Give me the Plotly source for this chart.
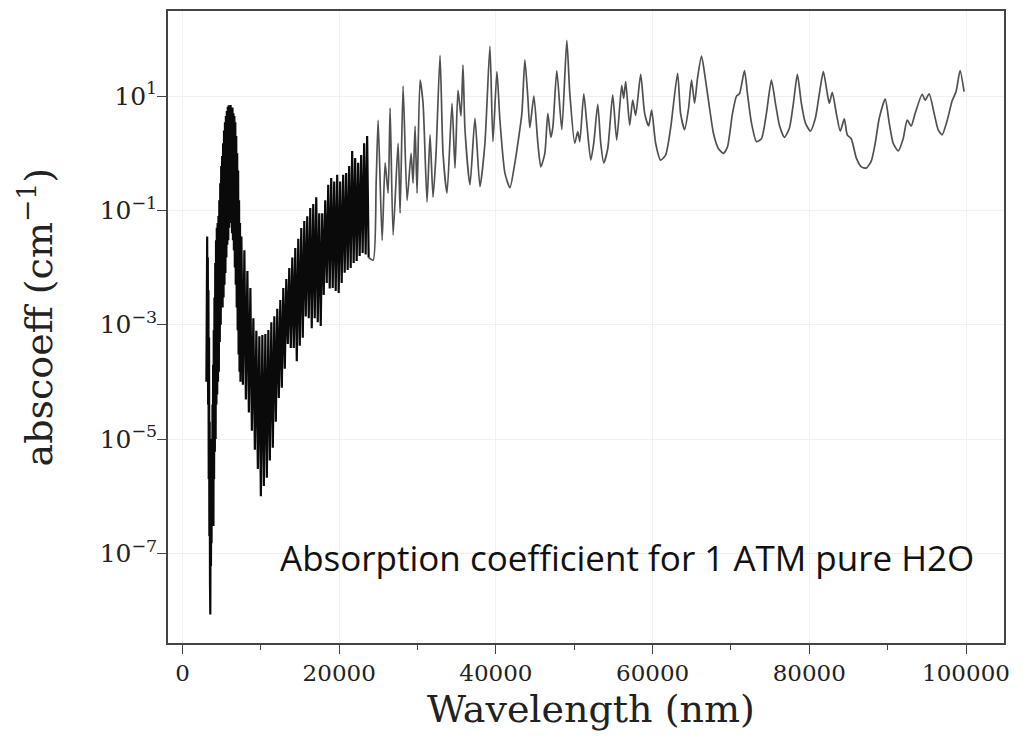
import plotly.graph_objects as go

# Dense ro-vibrational region (alternating line tops / bottoms)
dense_nm = [
    3050, 3100, 3150, 3190, 3230, 3270, 3310, 3350, 3390, 3430, 3470, 3510, 3550, 3590,
    3630, 3670, 3710, 3750, 3790, 3830, 3870, 3910, 3950, 3990, 4030, 4080, 4130, 4180,
    4230, 4280, 4330, 4380, 4430, 4480, 4530, 4590, 4640, 4700, 4760, 4820, 4880, 4940,
    5000, 5060, 5120, 5180, 5240, 5300, 5360, 5420, 5480, 5540, 5600, 5660, 5720, 5780,
    5840, 5900, 5960, 6020, 6080, 6140, 6200, 6260, 6320, 6380, 6440, 6500, 6560, 6620,
    6680, 6740, 6800, 6860, 6920, 6980, 7040, 7100, 7160, 7220, 7280, 7340, 7400,
    7517, 7708, 7899, 8090, 8281, 8472, 8663, 8854, 9045, 9236, 9427, 9618, 9809, 10000,
    10192, 10383, 10574, 10765, 10956, 11147, 11338, 11529, 11720, 11911, 12102, 12293,
    12484, 12675, 12866, 13057, 13248, 13440, 13631, 13822, 14013, 14204, 14395, 14586,
    14778, 14969, 15160, 15351, 15543, 15733, 15924, 16115, 16306, 16497, 16688, 16879,
    17070, 17262, 17453, 17644, 17835, 18026, 18218, 18409, 18600, 18791, 18982, 19173,
    19364, 19555, 19745, 19937, 20127, 20319, 20510, 20701, 20892, 21083, 21274, 21465,
    21656, 21847, 22038, 22230, 22421, 22612, 22803, 22994, 23185, 23376, 23567, 23758,
]
dense_coeff = [
    1.0e-4, 2.0e-2, 3.5e-2, 3.0e-4, 1.5e-2, 4.0e-5, 4.0e-3, 2.0e-6, 6.0e-4, 2.0e-7, 2.0e-5, 3.0e-8, 8.5e-9, 1.0e-6,
    6.0e-8, 4.0e-6, 1.5e-7, 1.0e-5, 3.0e-7, 4.0e-5, 1.0e-6, 2.0e-4, 3.0e-7, 8.0e-4, 2.0e-6, 3.0e-3, 6.0e-6, 1.2e-2,
    1.0e-5, 3.0e-2, 4.0e-5, 5.0e-2, 6.0e-5, 6.0e-2, 1.0e-4, 8.0e-2, 1.5e-4, 0.15, 5.0e-4, 0.3, 1.0e-3, 0.6,
    2.0e-3, 0.9, 2.0e-3, 1.5, 3.0e-3, 2.5, 5.0e-3, 3.5, 8.0e-3, 4.5, 1.5e-2, 5.5, 2.5e-2, 6.5,
    3.0e-2, 6.9, 5.0e-2, 6.5, 7.0e-2, 7.0, 6.0e-2, 6.0, 4.0e-2, 6.3, 3.0e-2, 5.0, 2.0e-2, 4.5,
    1.0e-2, 3.5, 5.0e-3, 2.0, 2.0e-3, 1.0, 8.0e-4, 0.5, 3.0e-4, 0.15, 1.5e-4, 6.0e-2, 1.0e-4,
    3.5e-2, 8.9e-5, 2.0e-2, 4.9e-5, 8.7e-3, 2.9e-5, 4.4e-3, 1.4e-5, 1.3e-3, 6.5e-6, 7.8e-4, 3.0e-6, 6.3e-4, 1.0e-6,
    6.6e-4, 1.5e-6, 6.9e-4, 2.1e-6, 8.1e-4, 4.2e-6, 1.1e-3, 7.0e-6, 1.4e-3, 2.0e-5, 1.9e-3, 5.2e-5,
    2.7e-3, 7.9e-5, 4.4e-3, 1.7e-4, 6.3e-3, 4.6e-4, 9.8e-3, 3.9e-4, 1.5e-2, 3.9e-4, 2.2e-2, 2.3e-4,
    3.2e-2, 4.3e-4, 4.9e-2, 5.9e-4, 6.5e-2, 1.4e-3, 7.9e-2, 1.3e-3, 0.11, 8.7e-4, 0.13, 1.3e-3,
    0.17, 1.1e-3, 8.9e-2, 9.5e-4, 8.9e-2, 3.3e-3, 0.15, 5.4e-3, 0.28, 4.3e-3, 0.37, 4.4e-3,
    0.32, 3.9e-3, 0.42, 3.6e-3, 0.32, 5.4e-3, 0.42, 8.1e-3, 0.45, 9.1e-3, 0.60, 9.8e-3,
    1.1, 1.2e-2, 0.83, 1.3e-2, 0.68, 1.6e-2, 0.93, 1.8e-2, 1.5, 1.7e-2, 2.0, 1.5e-2,
]

# Pure-rotational region (individual lines resolved)
smooth_nm = [
    23758, 24333, 24716, 24970, 25480, 25862, 26244, 26499, 26881, 27518, 27773, 28155,
    28665, 29175, 29429, 29684, 29939, 30321, 30703, 31213, 31595, 31977, 32360, 32869,
    33251, 33761, 34398, 34780, 35162, 35545, 35799, 36054, 36691, 37328, 37965, 38602,
    39239, 39622, 40131, 40513, 41150, 41787, 42424, 42806, 43316, 43698, 44080, 44335,
    44845, 45354, 45736, 46246, 46628, 47010, 47265, 47775, 48412, 49049, 49431, 50068,
    50450, 50705, 51215, 51597, 52106, 52489, 52998, 53381, 53763, 54272, 54909, 55419,
    56056, 56311, 56566, 57075, 57457, 57840, 58477, 58986, 59496, 59878, 60388, 61025,
    61662, 62299, 63190, 63572, 64082, 64592, 64974, 65356, 65738, 66248, 66758, 67267,
    67777, 68414, 69051, 69561, 70198, 70707, 71090, 71727, 72109, 72618, 73255, 73892,
    74529, 75166, 75676, 76185, 76822, 77459, 77969, 78478, 78988, 79498, 80135, 80772,
    81281, 81791, 82300, 82555, 82937, 83447, 83957, 84466, 84848, 85358, 85995, 86632,
    87269, 87906, 88416, 88925, 89690, 90199, 90709, 91346, 91983, 92492, 93002, 93512,
    94403, 94786, 95295, 95932, 96442, 96951, 97588, 98225, 98735, 99245, 99754,
]
smooth_coeff = [
    1.5e-2, 1.35e-2, 0.30, 3.8, 0.030, 0.68, 0.20, 6.2, 0.037, 1.5, 0.089, 15,
    0.15, 1.0, 0.30, 3.0, 0.20, 19, 7.5, 0.14, 2.1, 0.17, 1.0, 52,
    1.0, 0.20, 7.5, 0.55, 12.6, 4.5, 35, 2.6, 0.28, 4.1, 0.26, 1.5,
    75, 1.6, 27, 3.8, 0.45, 0.25, 0.68, 1.5, 5.0, 43, 9.3, 2.8,
    10, 1.5, 0.58, 1.0, 5.0, 1.9, 2.8, 28, 2.6, 95, 11.3, 1.5,
    2.4, 1.6, 11, 3.4, 0.76, 1.5, 7.2, 1.5, 0.68, 1.2, 10.5, 1.7,
    15.5, 9.2, 18, 3.1, 8.5, 4.6, 24, 5.0, 3.0, 5.7, 1.5, 0.76,
    0.93, 2.75, 25, 5.0, 2.6, 6.2, 19, 7.5, 21, 50, 19, 6.2,
    2.2, 1.2, 1.0, 1.3, 5.0, 10, 11, 28, 11, 3.4, 1.6, 1.8,
    5.0, 19, 7.5, 3.1, 1.9, 2.75, 7.5, 24, 7.5, 3.4, 2.45, 4.1,
    11, 27, 11, 7.5, 11.7, 5.0, 2.45, 4.0, 2.1, 1.8, 0.83, 0.58,
    0.55, 0.73, 1.5, 4.1, 8.9, 3.4, 1.5, 1.1, 1.8, 3.8, 3.0, 5.0,
    10.8, 8.5, 11, 5.0, 2.6, 2.1, 3.7, 8.2, 12, 28, 12,
]

x_tickvals = [0, 20000, 40000, 60000, 80000, 100000]
x_ticktext = ["0", "20000", "40000", "60000", "80000", "100000"]
x_minorvals = [10000, 30000, 50000, 70000, 90000]
y_tickvals = [1e1, 1e-1, 1e-3, 1e-5, 1e-7]
y_ticktext = ["10<sup>1</sup>", "10<sup>−1</sup>", "10<sup>−3</sup>", "10<sup>−5</sup>", "10<sup>−7</sup>"]

note_text = "Absorption coefficient for 1 ATM pure H2O"
x_title = "Wavelength (nm)"
y_title = "abscoeff (cm<sup>−1</sup>)"

fig = go.Figure()
fig.add_trace(go.Scatter(x=dense_nm, y=dense_coeff, mode="lines",
                         line=dict(color="#0a0a0a", width=2.2),
                         showlegend=False, hoverinfo="skip"))
fig.add_trace(go.Scatter(x=smooth_nm, y=smooth_coeff, mode="lines",
                         line=dict(color="#505050", width=1.7, shape="spline", smoothing=0.6),
                         showlegend=False, hoverinfo="skip"))

fig.update_layout(
    width=1020, height=739,
    margin=dict(l=160, r=24, t=1, b=104),
    plot_bgcolor="white", paper_bgcolor="white",
    font=dict(family="DejaVu Serif", color="#222222"),
)
fig.update_xaxes(
    range=[-1850, 104850], tickmode="array", tickvals=x_tickvals, ticktext=x_ticktext,
    ticks="outside", ticklen=9, tickwidth=1.3, tickcolor="#444444",
    showline=True, linecolor="#444444", linewidth=1.5, mirror=True,
    showgrid=True, gridcolor="#f0f0f0", gridwidth=1, zeroline=False,
    tickfont=dict(family="DejaVu Serif", size=23, color="#222222"),
    minor=dict(tickmode="array", tickvals=x_minorvals, ticks="outside", ticklen=5,
               tickwidth=1.2, tickcolor="#444444", showgrid=False),
)
fig.update_yaxes(
    type="log", range=[-8.57, 2.49], tickmode="array", tickvals=y_tickvals, ticktext=y_ticktext,
    ticks="outside", ticklen=9, tickwidth=1.3, tickcolor="#444444",
    showline=True, linecolor="#444444", linewidth=1.5, mirror=True,
    showgrid=True, gridcolor="#f0f0f0", gridwidth=1, zeroline=False,
    tickfont=dict(family="DejaVu Serif", size=25, color="#222222"),
    ticklabelstandoff=-5,
)
fig.add_annotation(text=note_text, xref="paper", yref="paper", x=0.1316, y=0.135,
                   xanchor="left", yanchor="middle", showarrow=False,
                   font=dict(family="Open Sans", size=35, color="#111111"))
fig.add_annotation(text=x_title, xref="paper", yref="paper", x=0.506, y=-0.104,
                   xanchor="center", yanchor="middle", showarrow=False,
                   font=dict(family="DejaVu Serif", size=38, color="#222222"))
fig.add_annotation(text=y_title, xref="paper", yref="paper", x=-0.158, y=0.515,
                   xanchor="center", yanchor="middle", showarrow=False, textangle=-90,
                   font=dict(family="DejaVu Serif", size=38, color="#222222"))

fig.write_html("out.html")
